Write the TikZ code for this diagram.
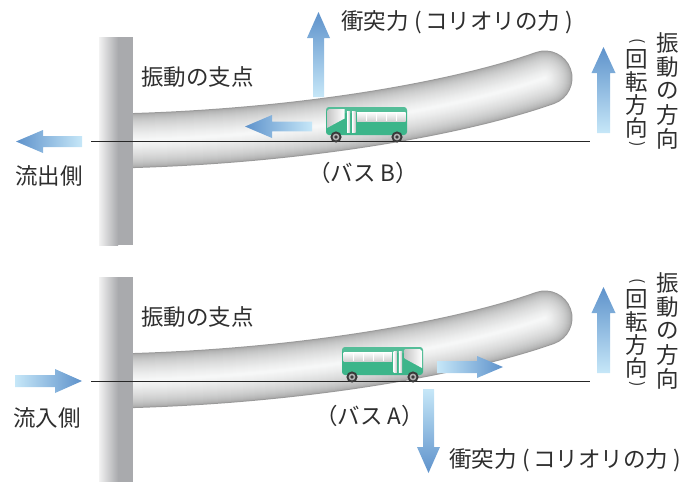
\documentclass[tikz,border=0pt]{standalone}
\usepackage{fontspec}
\newfontfamily\jp{Noto Sans CJK JP}
\definecolor{txt}{HTML}{2E2E2E}
\definecolor{adark}{HTML}{5E92CB}
\definecolor{alight}{HTML}{C6E7F8}
\definecolor{pilL}{HTML}{F2F2F2}
\definecolor{pilD}{HTML}{A9AAAD}
\definecolor{tubeedge}{HTML}{9A9A9A}
\definecolor{tubelight}{HTML}{F6F7F7}
\definecolor{busgreen}{HTML}{3DB58A}
\definecolor{wheeldark}{HTML}{3A3A3A}
% fat gradient arrows: tip, tail, axis position, head base, shaft half width, head half width
\newcommand\arrowLeft[6]{\shade[left color=adark, right color=alight]
  (#1,#3) -- (#4,#3-#6) -- (#4,#3-#5) -- (#2,#3-#5) -- (#2,#3+#5) -- (#4,#3+#5) -- (#4,#3+#6) -- cycle;}
\newcommand\arrowRight[6]{\shade[right color=adark, left color=alight]
  (#1,#3) -- (#4,#3-#6) -- (#4,#3-#5) -- (#2,#3-#5) -- (#2,#3+#5) -- (#4,#3+#5) -- (#4,#3+#6) -- cycle;}
\newcommand\arrowUp[6]{\shade[top color=adark, bottom color=alight]
  (#3,#1) -- (#3-#6,#4) -- (#3-#5,#4) -- (#3-#5,#2) -- (#3+#5,#2) -- (#3+#5,#4) -- (#3+#6,#4) -- cycle;}
\newcommand\arrowDown[6]{\shade[bottom color=adark, top color=alight]
  (#3,#1) -- (#3-#6,#4) -- (#3-#5,#4) -- (#3-#5,#2) -- (#3+#5,#2) -- (#3+#5,#4) -- (#3+#6,#4) -- cycle;}
% label text for the collision force
\newcommand\forcetext{衝突力\hspace{6pt}(\hspace{3pt}コリオリの力\hspace{5pt})}
\tikzset{
  lbl/.style={font=\jp\fontsize{22.5}{24}\selectfont, text=txt, inner sep=0pt},
  parenlbl/.style={font=\jp\fontsize{16}{18}\selectfont, text=txt, inner sep=0pt, rotate=-90},
  axisline/.style={line width=0.9pt, draw=black!85},
  bus/.pic={
    % body
    \fill[busgreen, rounded corners=3pt] (0,0) rectangle (81,28);
    \fill[white, opacity=0.12, rounded corners=3pt] (0,0) rectangle (81,6);
    % side windows
    \shade[top color=white, bottom color=gray!35] (1.5,5) rectangle (50,14);
    \foreach \k in {11,21,31,41} \draw[white, line width=0.6pt] (\k,5) -- (\k,14);
    % door
    \shade[left color=white, right color=gray!45] (51.5,4) rectangle (54.8,25);
    \shade[left color=white, right color=gray!45] (56.8,4) rectangle (60,25);
    % windshield
    \shade[left color=gray!45, right color=white]
      (62.5,2) -- (78,2) -- (80,4) -- (80,21) -- (62.5,11.5) -- cycle;
    % wheels
    \foreach \wx in {10,71} {
      \fill[wheeldark] (\wx,30) circle (5.6pt);
      \fill[gray!60] (\wx,30) circle (3.4pt);
      \fill[wheeldark] (\wx,30) circle (1.8pt);
    }
  }
}
\begin{document}
\begin{tikzpicture}[x=1pt,y=-1pt]
\useasboundingbox (0,0) rectangle (683,482);

\foreach \oy in {0,240} {
  % curved tube, built from nested strokes for a rounded look
  \begin{scope}
    \clip (118,\oy) rectangle (683,\oy+240);
    \foreach \i in {0,...,26} {
      \pgfmathsetmacro\w{55-2*\i}
      \pgfmathsetmacro\p{100*sqrt(\i/26)}
      \draw[line width=\w pt, line cap=round, color=tubelight!\p!tubeedge]
        (116,\oy+141) .. controls (300,\oy+137) and (460,\oy+108) .. (545,\oy+78);
    }
  \end{scope}
  % pillar
  \shade[left color=pilL, right color=pilD] (99,\oy+37) rectangle (118,\oy+245);
  \fill[pilD] (118,\oy+37) rectangle (133,\oy+245);
  % level line
  \coordinate (L\oy) at (91,\oy+141);
  \coordinate (R\oy) at (590,\oy+141);
  \draw[axisline] (L\oy) -- (R\oy);
  % oscillation direction arrow and labels
  \arrowUp{\oy+47}{\oy+133}{603.5}{\oy+73}{6.5}{12}
  \node[lbl, anchor=west] (pivot\oy) at (141,\oy+77) {振動の支点};
  \foreach \c [count=\k] in {振,動,の,方,向}
    \node[lbl] (osc\oy-\k) at (668,19+24*\k+\oy) {\c};
  \node[parenlbl] (rotopen\oy) at (637,\oy+41) {(};
  \foreach \c/\y [count=\k] in {回/59,転/82,方/105,向/128}
    \node[lbl] (rot\oy-\k) at (637,\y+\oy) {\c};
  \node[parenlbl] (rotclose\oy) at (637,\oy+144) {)};
}

% upper case: outflow side, bus B
\arrowLeft{16}{82}{141.5}{43}{5.5}{11.5}
\arrowLeft{245}{312}{126.5}{272}{4.8}{11.5}
\arrowUp{12}{97}{318.5}{38}{5.5}{11.5}
\pic[xscale=-1] (busB) at (407,107) {bus};
\node[lbl, anchor=west] (outflow) at (15,176) {流出側};
\node[lbl, anchor=west] (busBlbl) at (308,173) {（バス B）};
\node[lbl, anchor=west] (forceB) at (341,22) {\forcetext};

% lower case: inflow side, bus A
\arrowRight{82}{15}{381}{55}{6}{12}
\arrowRight{503}{437}{367}{477}{6}{11}
\arrowDown{473}{389}{428.5}{447}{5.5}{11.5}
\pic (busA) at (342,347) {bus};
\node[lbl, anchor=west] (inflow) at (13,418) {流入側};
\node[lbl, anchor=west] (busAlbl) at (315,416) {（バス A）};
\node[lbl, anchor=west] (forceA) at (449,460) {\forcetext};
\end{tikzpicture}
\end{document}
